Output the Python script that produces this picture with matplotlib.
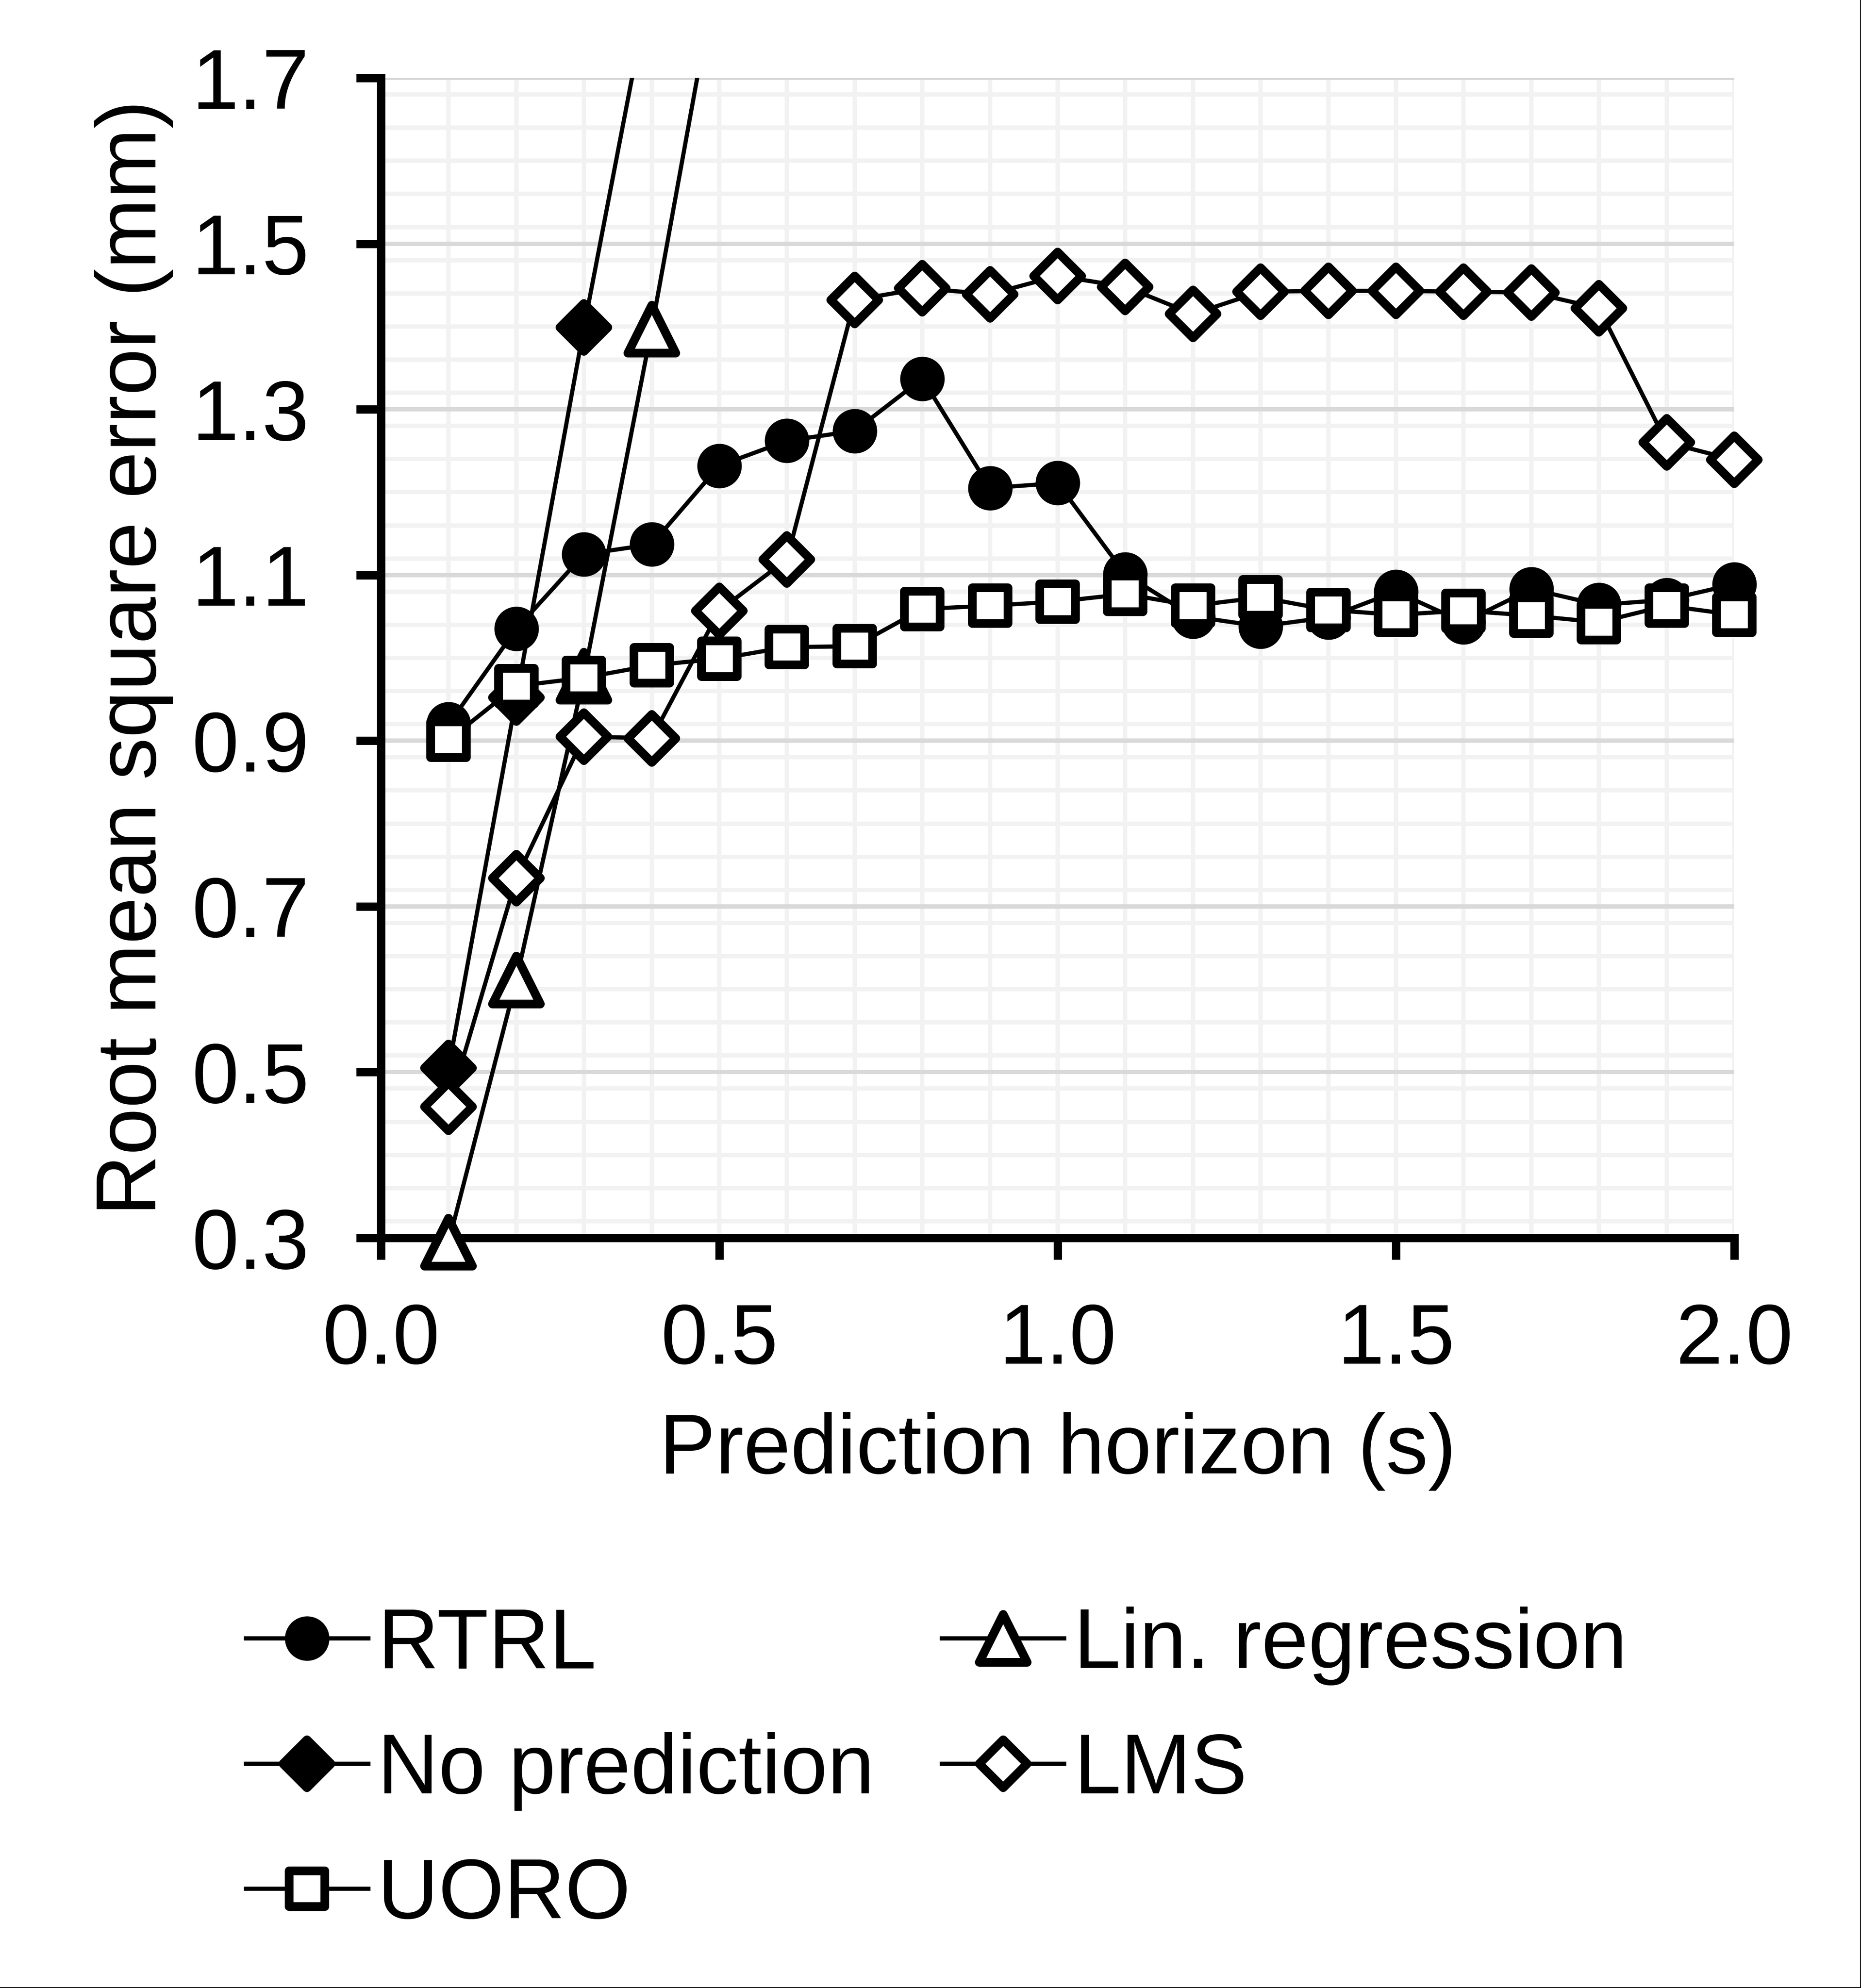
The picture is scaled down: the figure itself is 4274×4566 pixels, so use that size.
import matplotlib
matplotlib.use("Agg")
import matplotlib.pyplot as plt
from matplotlib.markers import MarkerStyle
from matplotlib.patches import Rectangle
from matplotlib.lines import Line2D
from matplotlib.ticker import MultipleLocator, FormatStrFormatter

plt.rcParams['font.family'] = ['Liberation Sans', 'DejaVu Sans']

# ---- data ----
horizon = [0.1, 0.2, 0.3, 0.4, 0.5, 0.6, 0.7, 0.8, 0.9, 1.0,
           1.1, 1.2, 1.3, 1.4, 1.5, 1.6, 1.7, 1.8, 1.9, 2.0]
rtrl = [0.920, 1.035, 1.125, 1.137, 1.232, 1.262, 1.274, 1.337, 1.205, 1.211,
        1.101, 1.050, 1.038, 1.049, 1.080, 1.043, 1.083, 1.064, 1.070, 1.089]
uoro = [0.901, 0.966, 0.976, 0.991, 0.999, 1.013, 1.014, 1.059, 1.063, 1.068,
        1.077, 1.063, 1.073, 1.058, 1.052, 1.057, 1.051, 1.043, 1.063, 1.052]
lms = [0.458, 0.734, 0.905, 0.903, 1.057, 1.119, 1.432, 1.446, 1.439, 1.461,
       1.448, 1.415, 1.442, 1.443, 1.443, 1.442, 1.441, 1.422, 1.260, 1.239]
nopred_x = [0.1, 0.2, 0.3, 0.4]
nopred = [0.505, 0.952, 1.399, 1.823]
linreg_x = [0.1, 0.2, 0.3, 0.4, 0.5]
linreg = [0.295, 0.611, 0.978, 1.397, 1.847]

labels = ["RTRL", "No prediction", "UORO", "Lin. regression", "LMS"]
x_ticks = [0.0, 0.5, 1.0, 1.5, 2.0]
y_ticks = [0.3, 0.5, 0.7, 0.9, 1.1, 1.3, 1.5, 1.7]

# ---- figure ----
W, H, DPI = 4274, 4566, 300
fig = plt.figure(figsize=(W / DPI, H / DPI), dpi=DPI)
ax = fig.add_axes([875 / W, 1 - 2843 / H, (3983 - 875) / W, (2843 - 179) / H])

FS = 46.5
LW = 2.3
MEW = 4.8

def mk(m):
    return MarkerStyle(m, joinstyle='round')

common = dict(color='black', lw=LW, mew=MEW, mec='black')
l_rtrl, = ax.plot(horizon, rtrl, marker=mk('o'), ms=19.7, mfc='black', zorder=3.0, **common)
l_np, = ax.plot(nopred_x, nopred, marker=mk('D'), ms=18.5, mfc='black', zorder=3.1, **common)
l_lin, = ax.plot(linreg_x, linreg, marker=mk('^'), ms=26.4, mfc='white', zorder=3.2, **common)
l_lms, = ax.plot(horizon, lms, marker=mk('D'), ms=18.5, mfc='white', zorder=3.3, **common)
l_uoro, = ax.plot(horizon, uoro, marker=mk('s'), ms=19.7, mfc='white', zorder=3.4, **common)

for ln in (l_rtrl, l_np, l_lin, l_lms, l_uoro):
    clip = Rectangle((-0.1, -0.2), 1.2, 1.2, transform=ax.transAxes)
    ln.set_clip_path(clip)

ax.set_xlim(0, 2.0)
ax.set_ylim(0.3, 1.7)
ax.set_xticks(x_ticks)
ax.set_yticks(y_ticks)
ax.xaxis.set_major_formatter(FormatStrFormatter('%.1f'))
ax.yaxis.set_major_formatter(FormatStrFormatter('%.1f'))
ax.xaxis.set_minor_locator(MultipleLocator(0.1))
ax.yaxis.set_minor_locator(MultipleLocator(0.04))

ax.set_axisbelow(True)
ax.xaxis.grid(True, which='both', color='#f2f2f2', lw=2.4)
ax.yaxis.grid(True, which='minor', color='#f2f2f2', lw=2.4)
ax.yaxis.grid(True, which='major', color='#d9d9d9', lw=2.4)

for s in ('top', 'right'):
    ax.spines[s].set_visible(False)
for s in ('left', 'bottom'):
    ax.spines[s].set_linewidth(4.6)
    ax.spines[s].set_color('black')

ax.tick_params(axis='both', which='minor', length=0)
ax.tick_params(axis='y', which='major', direction='out', length=13.7, width=4.6,
               pad=26, labelsize=FS, colors='black')
ax.tick_params(axis='x', which='major', direction='out', length=12, width=4.6,
               pad=23.5, labelsize=FS, colors='black')

ax.set_xlabel("Prediction horizon (s)", fontsize=FS, labelpad=17)
ax.set_ylabel("Root mean square error (mm)", fontsize=FS, labelpad=10)

handles = [l_rtrl, l_np, l_uoro, l_lin, l_lms]
leg = fig.legend(handles, labels, loc='upper left', ncol=2,
                 bbox_to_anchor=(565 / W, 1 - 3690 / H), bbox_transform=fig.transFigure,
                 frameon=False, fontsize=FS, borderpad=0, borderaxespad=0,
                 handlelength=1.45, handletextpad=0.11, columnspacing=0.8,
                 labelspacing=0.55, numpoints=1)

# thin frame lines on right and bottom edges
fig.add_artist(Line2D([1 - 1 / W, 1 - 1 / W], [0, 1], transform=fig.transFigure,
                      color='black', lw=0.5))
fig.add_artist(Line2D([0, 1], [1 / H, 1 / H], transform=fig.transFigure,
                      color='black', lw=0.5))

fig.savefig("out.png", dpi=DPI)
